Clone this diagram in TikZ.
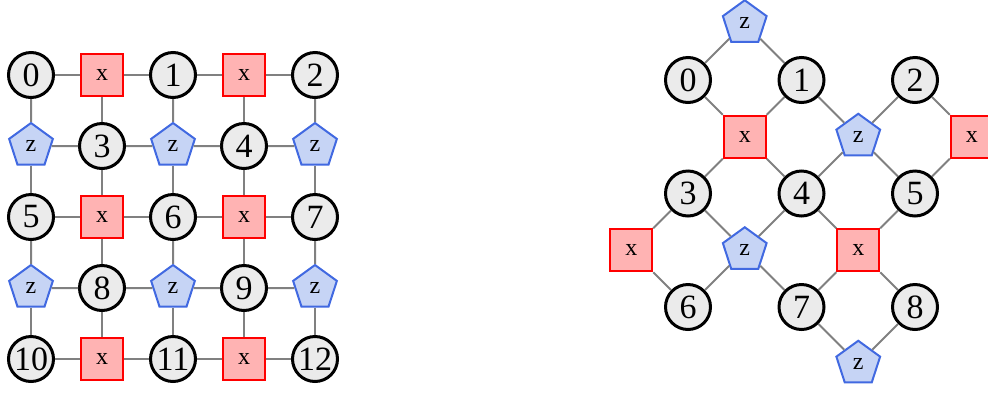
\documentclass[tikz,border=0pt]{standalone}
\usepackage{fontspec}
\setmainfont{Liberation Serif}
\usetikzlibrary{shapes.geometric}
\definecolor{qfill}{HTML}{EBEBEB}
\definecolor{xfill}{HTML}{FFB3B3}
\definecolor{xline}{HTML}{FF0000}
\definecolor{zfill}{HTML}{C6D4F5}
\definecolor{zline}{HTML}{4169E1}
\definecolor{eline}{HTML}{808080}
\tikzset{
  qubit/.style={circle,draw=black,fill=qfill,line width=3pt,minimum size=45pt,inner sep=0pt,font=\fontsize{34}{34}\selectfont},
  xstab/.style={rectangle,draw=xline,fill=xfill,line width=2pt,minimum size=42pt,inner sep=0pt,font=\fontsize{24}{24}\selectfont},
  zstab/.style={regular polygon,regular polygon sides=5,draw=zline,fill=zfill,line width=2pt,minimum size=46pt,inner sep=0pt,font=\fontsize{24}{24}\selectfont},
  edge/.style={draw=eline,line width=2pt}
}
\begin{document}
\begin{tikzpicture}[x=1pt,y=-1pt]
\useasboundingbox (0,0) rectangle (988,392);
% ---------- left grid ----------
\def\gx#1{31+71*#1}
\def\gy#1{75+71*#1}
\node[qubit] (L0) at ({\gx0},{\gy0}) {0};
\node[xstab] (La1) at ({\gx1},{\gy0}) {x};
\node[qubit] (L1) at ({\gx2},{\gy0}) {1};
\node[xstab] (La2) at ({\gx3},{\gy0}) {x};
\node[qubit] (L2) at ({\gx4},{\gy0}) {2};
\node[zstab] (Lb1) at ({\gx0},{\gy1}) {z};
\node[qubit] (L3) at ({\gx1},{\gy1}) {3};
\node[zstab] (Lb2) at ({\gx2},{\gy1}) {z};
\node[qubit] (L4) at ({\gx3},{\gy1}) {4};
\node[zstab] (Lb3) at ({\gx4},{\gy1}) {z};
\node[qubit] (L5) at ({\gx0},{\gy2}) {5};
\node[xstab] (Lc1) at ({\gx1},{\gy2}) {x};
\node[qubit] (L6) at ({\gx2},{\gy2}) {6};
\node[xstab] (Lc2) at ({\gx3},{\gy2}) {x};
\node[qubit] (L7) at ({\gx4},{\gy2}) {7};
\node[zstab] (Ld1) at ({\gx0},{\gy3}) {z};
\node[qubit] (L8) at ({\gx1},{\gy3}) {8};
\node[zstab] (Ld2) at ({\gx2},{\gy3}) {z};
\node[qubit] (L9) at ({\gx3},{\gy3}) {9};
\node[zstab] (Ld3) at ({\gx4},{\gy3}) {z};
\node[qubit] (L10) at ({\gx0},{\gy4}) {10};
\node[xstab] (Le1) at ({\gx1},{\gy4}) {x};
\node[qubit] (L11) at ({\gx2},{\gy4}) {11};
\node[xstab] (Le2) at ({\gx3},{\gy4}) {x};
\node[qubit] (L12) at ({\gx4},{\gy4}) {12};
\foreach \a/\b in {L0/La1,La1/L1,L1/La2,La2/L2,
                   Lb1/L3,L3/Lb2,Lb2/L4,L4/Lb3,
                   L5/Lc1,Lc1/L6,L6/Lc2,Lc2/L7,
                   Ld1/L8,L8/Ld2,Ld2/L9,L9/Ld3,
                   L10/Le1,Le1/L11,L11/Le2,Le2/L12,
                   L0/Lb1,Lb1/L5,L5/Ld1,Ld1/L10,
                   La1/L3,L3/Lc1,Lc1/L8,L8/Le1,
                   L1/Lb2,Lb2/L6,L6/Ld2,Ld2/L11,
                   La2/L4,L4/Lc2,Lc2/L9,L9/Le2,
                   L2/Lb3,Lb3/L7,L7/Ld3,Ld3/L12}
  \draw[edge] (\a) -- (\b);
% ---------- right rotated lattice ----------
\def\rx#1{688+113.5*#1}
\def\ry#1{80+113.5*#1}
\node[qubit] (R0) at ({\rx0},{\ry0}) {0};
\node[qubit] (R1) at ({\rx1},{\ry0}) {1};
\node[qubit] (R2) at ({\rx2},{\ry0}) {2};
\node[qubit] (R3) at ({\rx0},{\ry1}) {3};
\node[qubit] (R4) at ({\rx1},{\ry1}) {4};
\node[qubit] (R5) at ({\rx2},{\ry1}) {5};
\node[qubit] (R6) at ({\rx0},{\ry2}) {6};
\node[qubit] (R7) at ({\rx1},{\ry2}) {7};
\node[qubit] (R8) at ({\rx2},{\ry2}) {8};
\node[zstab] (Rz1) at ({\rx{0.5}},{\ry{-0.5}}) {z};
\node[xstab] (Rx1) at ({\rx{0.5}},{\ry{0.5}}) {x};
\node[zstab] (Rz2) at ({\rx{1.5}},{\ry{0.5}}) {z};
\node[xstab] (Rx2) at ({\rx{2.5}},{\ry{0.5}}) {x};
\node[xstab] (Rx3) at ({\rx{-0.5}},{\ry{1.5}}) {x};
\node[zstab] (Rz3) at ({\rx{0.5}},{\ry{1.5}}) {z};
\node[xstab] (Rx4) at ({\rx{1.5}},{\ry{1.5}}) {x};
\node[zstab] (Rz4) at ({\rx{1.5}},{\ry{2.5}}) {z};
\foreach \a/\b in {Rz1/R0,Rz1/R1,
                   Rx1/R0,Rx1/R1,Rx1/R3,Rx1/R4,
                   Rz2/R1,Rz2/R2,Rz2/R4,Rz2/R5,
                   Rx2/R2,Rx2/R5,
                   Rx3/R3,Rx3/R6,
                   Rz3/R3,Rz3/R4,Rz3/R6,Rz3/R7,
                   Rx4/R4,Rx4/R5,Rx4/R7,Rx4/R8,
                   Rz4/R7,Rz4/R8}
  \draw[edge] (\a) -- (\b);
\end{tikzpicture}
\end{document}
